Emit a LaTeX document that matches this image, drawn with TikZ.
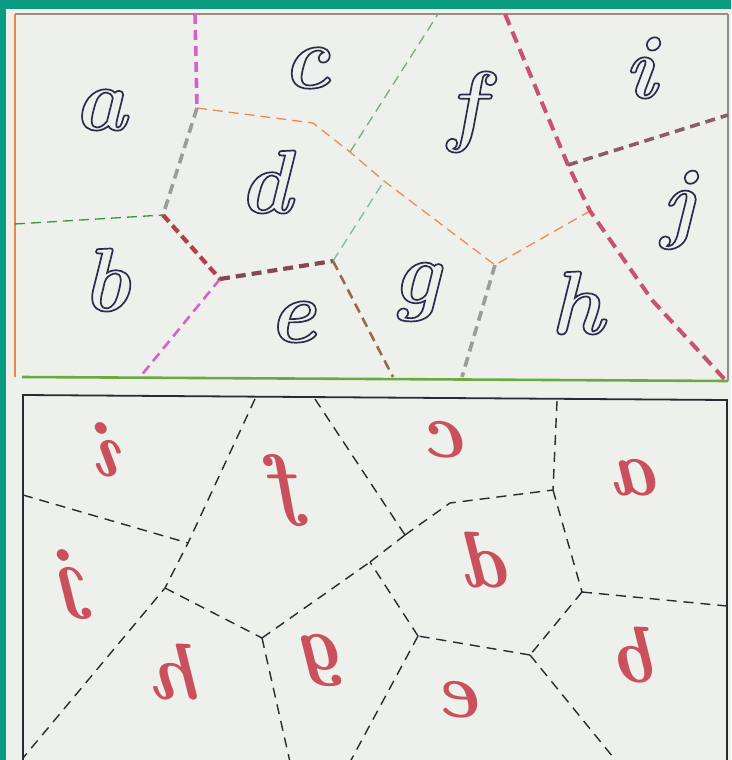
\documentclass[tikz,border=0pt]{standalone}
\usepackage{fontspec}
\usepackage{graphicx}
\definecolor{bgteal}{HTML}{0A9B81}
\definecolor{paper}{HTML}{EEF0EC}
\definecolor{ink}{HTML}{2B2E4A}
\definecolor{redm}{HTML}{C9505C}
\definecolor{cTop}{HTML}{9C8C84}
\definecolor{cOrange}{HTML}{E8874A}
\definecolor{cGreen}{HTML}{6BAA3F}
\definecolor{cGray}{HTML}{8E8E8E}
\definecolor{cMag}{HTML}{D264C8}
\definecolor{cOrD}{HTML}{EA8A5E}
\definecolor{cGrD}{HTML}{3F8E45}
\definecolor{cGrL}{HTML}{72B072}
\definecolor{cGrayD}{HTML}{9C9C98}
\definecolor{cDRed}{HTML}{B5404C}
\definecolor{cDBrown}{HTML}{86484C}
\definecolor{cTeal}{HTML}{6CC0A4}
\definecolor{cBrown}{HTML}{9A6850}
\definecolor{cCrim}{HTML}{C9526C}
\definecolor{cPurp}{HTML}{8A5C68}
\definecolor{cBlack}{HTML}{2A2A32}
% outlined (stroked, unfilled) letter via PDF text rendering mode 1
\newcommand\olet[1]{\textcolor{ink}{\special{pdf:literal direct 1 Tr 1.7 w}#1\special{pdf:literal direct 0 Tr 1 w}}}
\tikzset{
  toplet/.style={inner sep=0pt, font=\fontsize{90}{90}\selectfont\bfseries\itshape},
  botlet/.style={inner sep=0pt, text=redm, font=\fontsize{80}{80}\selectfont\bfseries\itshape},
  thindash/.style={line width=1.3pt, dash pattern=on 10pt off 6pt},
  thickdash/.style={line width=3.6pt, dash pattern=on 10pt off 6pt},
  medDash/.style={line width=2.6pt, dash pattern=on 10pt off 6pt},
  blackdash/.style={cBlack, line width=1.4pt, dash pattern=on 10pt off 7pt}
}
\begin{document}
\begin{tikzpicture}[x=1pt,y=-1pt]
\useasboundingbox (0,0) rectangle (731,760);
\fill[bgteal] (0,0) rectangle (731,760);
\fill[paper] (6,9) rectangle (731,760);

% ---------- top frame ----------
\coordinate (TL) at (15,14);
\coordinate (TR) at (728,14);
\coordinate (BL) at (15,377);
\coordinate (BLg) at (22,377);
\coordinate (BR) at (728,381);
\draw[cTop, line width=2.4pt] (TL) -- (TR);
\draw[cOrange, line width=2pt] (TL) -- (BL);
\draw[cGreen, line width=2.6pt] (BLg) -- (BR);
\draw[cGray, line width=1.4pt] (TR) -- (BR);

% top vertices
\coordinate (V1) at (197,108);
\coordinate (V2) at (163,215);
\coordinate (V4) at (220,279);
\coordinate (V3) at (333,261);
\coordinate (O1) at (313,123);
\coordinate (O2) at (350,152);
\coordinate (O3) at (384,181);
\coordinate (O4) at (495,265);
\coordinate (O5) at (590,211);
\coordinate (Q) at (568,165);
\coordinate (R1) at (505,14);
\coordinate (R2) at (652,300);
\coordinate (R3) at (728,383);
\coordinate (Emag1) at (195,14);
\coordinate (Emag2) at (140,377);
\coordinate (Egreen) at (15,224);
\coordinate (Ebrown) at (393,377);
\coordinate (Egray) at (462,377);
\coordinate (Epur) at (728,115);
\coordinate (Egr2) at (438,14);

\draw[cMag, thickdash] (Emag1) -- (V1);
\draw[cMag, medDash] (V4) -- (Emag2);
\draw[cGrayD, thickdash] (V1) -- (V2);
\draw[cGrD, thindash] (Egreen) -- (V2);
\draw[cDRed, line width=4.2pt, dash pattern=on 9pt off 5pt] (V2) -- (V4);
\draw[cDBrown, line width=4.2pt, dash pattern=on 10pt off 6pt] (V4) -- (V3);
\draw[cTeal, thindash] (V3) -- (O3);
\draw[cOrD, thindash] (V1) -- (O1) -- (O2) -- (O3) -- (O4) -- (O5);
\draw[cGrL, thindash] (O2) -- (Egr2);
\draw[cBrown, medDash] (V3) -- (Ebrown);
\draw[cGrayD, thickdash] (O4) -- (Egray);
\draw[cCrim, line width=4pt, dash pattern=on 12pt off 7pt] (R1) -- (Q) -- (O5) -- (R2) -- (R3);
\draw[cPurp, thickdash] (Q) -- (Epur);

% top letters
\node[toplet] (la) at (100,110) {\olet{a}};
\node[toplet] (lc) at (306,68) {\olet{c}};
\node[toplet] (ld) at (265,182) {\olet{d}};
\node[toplet] (lb) at (106,280) {\olet{b}};
\node[toplet] (le) at (292,322) {\olet{e}};
\node[toplet] (lf) at (466,112) {\olet{f}};
\node[toplet] (lg) at (416,292) {\olet{g}};
\node[toplet] (lh) at (577,303) {\olet{h}};
\node[toplet] (li) at (640,68) {\olet{i}};
\node[toplet] (lj) at (678,210) {\olet{j}};

% ---------- bottom frame ----------
\coordinate (BTL) at (23,395);
\coordinate (BTR) at (727,400);
\coordinate (BBL) at (23,762);
\coordinate (BBR) at (727,762);
\draw[cBlack, line width=1.8pt] (BBL) -- (BTL) -- (BTR) -- (BBR);

\coordinate (W1) at (188,543);
\coordinate (W2) at (165,588);
\coordinate (W3) at (262,638);
\coordinate (W4) at (370,562);
\coordinate (W5) at (405,535);
\coordinate (W6) at (450,503);
\coordinate (W7) at (553,490);
\coordinate (W8) at (582,592);
\coordinate (W9) at (530,655);
\coordinate (W10) at (418,636);
\coordinate (Ea) at (23,495);
\coordinate (Eb) at (255,399);
\coordinate (Ec) at (23,758);
\coordinate (Ed) at (290,762);
\coordinate (Ee) at (315,399);
\coordinate (Ef) at (557,401);
\coordinate (Eg) at (727,606);
\coordinate (Eh) at (350,762);
\coordinate (Ei) at (617,762);

\draw[blackdash] (Ea) -- (W1);
\draw[blackdash] (Eb) -- (W1) -- (W2) -- (Ec);
\draw[blackdash] (W2) -- (W3);
\draw[blackdash] (W3) -- (Ed);
\draw[blackdash] (W3) -- (W4);
\draw[blackdash] (Ee) -- (W5);
\draw[blackdash] (W5) -- (W4);
\draw[blackdash] (W5) -- (W6) -- (W7);
\draw[blackdash] (Ef) -- (W7);
\draw[blackdash] (W7) -- (W8);
\draw[blackdash] (W8) -- (Eg);
\draw[blackdash] (W8) -- (W9);
\draw[blackdash] (W9) -- (W10);
\draw[blackdash] (W10) -- (W4);
\draw[blackdash] (W10) -- (Eh);
\draw[blackdash] (W9) -- (Ei);

% bottom (mirrored) letters
\node[botlet] (ma) at (640,478) {\reflectbox{a}};
\node[botlet] (mc) at (450,440) {\reflectbox{c}};
\node[botlet] (mf) at (290,490) {\reflectbox{f}};
\node[botlet] (mi) at (113,450) {\reflectbox{i}};
\node[botlet] (mj) at (75,585) {\reflectbox{j}};
\node[botlet] (md) at (492,560) {\reflectbox{d}};
\node[botlet] (mb) at (640,655) {\reflectbox{b}};
\node[botlet] (mg) at (325,660) {\reflectbox{g}};
\node[botlet] (me) at (465,700) {\reflectbox{e}};
\node[botlet] (mh) at (180,672) {\reflectbox{h}};
\end{tikzpicture}
\end{document}
